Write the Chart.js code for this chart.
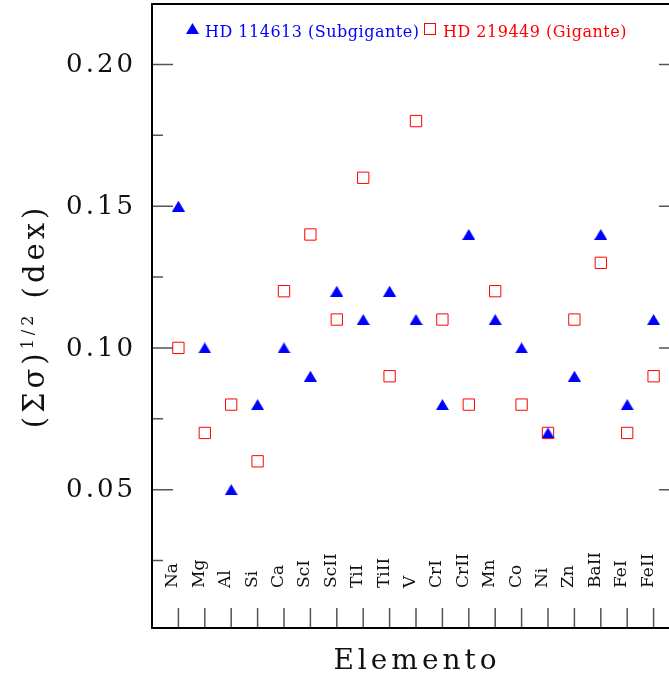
<!DOCTYPE html>
<html>
<head>
<meta charset="utf-8">
<script src="https://cdn.jsdelivr.net/npm/chart.js@4"></script>
<style>
  html, body { margin: 0; padding: 0; background: #fff; overflow: hidden; }
</style>
</head>
<body>
<canvas id="sigmaChart" width="700" height="675" style="width:700px;height:675px;display:block"></canvas>
<script>
// Elementos e valores de (Σσ)^1/2
const elementos = ['Na', 'Mg', 'Al', 'Si', 'Ca', 'ScI', 'ScII', 'TiI', 'TiII', 'V', 'CrI', 'CrII', 'Mn', 'Co', 'Ni', 'Zn', 'BaII', 'FeI', 'FeII'];
const subgigante = [0.15, 0.10, 0.05, 0.08, 0.10, 0.09, 0.12, 0.11, 0.12, 0.11, 0.08, 0.14, 0.11, 0.10, 0.07, 0.09, 0.14, 0.08, 0.11];
const gigante = [0.10, 0.07, 0.08, 0.06, 0.12, 0.14, 0.11, 0.16, 0.09, 0.18, 0.11, 0.08, 0.12, 0.08, 0.07, 0.11, 0.13, 0.07, 0.09];
const yMajorTicks = [0.05, 0.10, 0.15, 0.20];
const yTickLabels = ['0.05', '0.10', '0.15', '0.20'];
const yMinorTicks = [0.025, 0.075, 0.125, 0.175];

const FONT = '"DejaVu Serif", "Liberation Serif", serif';

// triangle centred on its bounding box (like the original plot symbol)
function makeTriangle(w, h, color) {
  const c = document.createElement('canvas');
  c.width = w;
  c.height = h;
  const g = c.getContext('2d');
  g.fillStyle = color;
  g.beginPath();
  g.moveTo(w / 2, 0);
  g.lineTo(w, h);
  g.lineTo(0, h);
  g.closePath();
  g.fill();
  return c;
}
const triangulo = makeTriangle(13, 11, '#0000ff');

// Frame, inward ticks, labels and legend
const marcoPlugin = {
  id: 'marco',
  beforeDatasetsDraw(chart) {
    const { ctx, chartArea: a, scales: { x, y } } = chart;
    ctx.save();
    ctx.letterSpacing = '0px';

    // tick marks
    ctx.strokeStyle = '#555';
    ctx.lineWidth = 1.5;
    ctx.beginPath();
    yMajorTicks.forEach(v => {
      const py = y.getPixelForValue(v);
      ctx.moveTo(a.left, py); ctx.lineTo(a.left + 21, py);
      ctx.moveTo(a.right, py); ctx.lineTo(a.right - 21, py);
    });
    yMinorTicks.forEach(v => {
      const py = y.getPixelForValue(v);
      ctx.moveTo(a.left, py); ctx.lineTo(a.left + 11, py);
      ctx.moveTo(a.right, py); ctx.lineTo(a.right - 11, py);
    });
    elementos.forEach((e, i) => {
      const px = x.getPixelForValue(i);
      ctx.moveTo(px, a.bottom); ctx.lineTo(px, a.bottom - 20);
    });
    ctx.stroke();

    // frame
    ctx.strokeStyle = '#000';
    ctx.lineWidth = 2;
    ctx.strokeRect(a.left, a.top, a.right - a.left, a.bottom - a.top);

    // y tick labels
    ctx.fillStyle = '#111';
    ctx.font = '26px ' + FONT;
    ctx.letterSpacing = '3px';
    ctx.textAlign = 'left';
    ctx.textBaseline = 'middle';
    yMajorTicks.forEach((v, i) => {
      const w = ctx.measureText(yTickLabels[i]).width - 3;
      ctx.fillText(yTickLabels[i], a.left - 19 - w, y.getPixelForValue(v) + 1);
    });

    // element names, rotated, inside the box
    ctx.letterSpacing = '0px';
    ctx.font = '17px ' + FONT;
    ctx.textBaseline = 'alphabetic';
    elementos.forEach((e, i) => {
      ctx.save();
      ctx.translate(x.getPixelForValue(i) - 1, 588);
      ctx.rotate(-Math.PI / 2);
      ctx.fillText(e, 0, 0);
      ctx.restore();
    });

    // x title
    ctx.font = '28px ' + FONT;
    ctx.letterSpacing = '4px';
    ctx.textAlign = 'center';
    ctx.fillText('Elemento', (a.left + a.right) / 2 + 1, 669);

    // y title with superscript
    ctx.textAlign = 'left';
    ctx.letterSpacing = '4px';
    const big = '29px ' + FONT, small = '16px ' + FONT;
    ctx.font = big;
    const w1 = ctx.measureText('(Σσ)').width;
    const w3 = ctx.measureText(' (dex)').width;
    ctx.font = small;
    const w2 = ctx.measureText('1/2').width;
    const total = w1 + w2 + w3;
    ctx.save();
    ctx.translate(44, (a.top + a.bottom) / 2);
    ctx.rotate(-Math.PI / 2);
    let tx = -total / 2;
    ctx.font = big;
    ctx.fillText('(Σσ)', tx, 0);
    tx += w1;
    ctx.font = small;
    ctx.fillText('1/2', tx, -11);
    tx += w2;
    ctx.font = big;
    ctx.fillText(' (dex)', tx, 0);
    ctx.restore();

    // legend
    ctx.letterSpacing = '0.5px';
    ctx.font = '16px ' + FONT;
    ctx.drawImage(triangulo, 186, 23);
    ctx.fillStyle = '#0000ff';
    ctx.fillText('HD 114613 (Subgigante)', 205, 37);
    ctx.strokeStyle = '#ff0000';
    ctx.lineWidth = 1;
    ctx.strokeRect(424.5, 23.5, 11, 11);
    ctx.fillStyle = '#ff0000';
    ctx.fillText('HD 219449 (Gigante)', 443, 37);

    ctx.restore();
  }
};

const ctx = document.getElementById('sigmaChart').getContext('2d');

new Chart(ctx, {
  type: 'scatter',
  data: {
    datasets: [
      {
        label: 'HD 114613 (Subgigante)',
        data: subgigante.map((v, i) => ({ x: i, y: v })),
        pointStyle: triangulo,
        backgroundColor: '#0000ff',
        borderColor: '#0000ff',
      },
      {
        label: 'HD 219449 (Gigante)',
        data: gigante.map((v, i) => ({ x: i, y: v })),
        pointStyle: 'rect',
        pointRadius: 8,
        backgroundColor: 'rgba(0,0,0,0)',
        borderColor: '#ff0000',
        borderWidth: 1,
      },
    ],
  },
  options: {
    responsive: false,
    animation: false,
    events: [],
    layout: { autoPadding: false, padding: { top: 4, right: 20, bottom: 47, left: 152 } },
    plugins: {
      legend: { display: false },
      tooltip: { enabled: false },
    },
    scales: {
      x: { type: 'linear', min: -1, max: 19, display: false },
      y: { min: 0.0012, max: 0.2213, display: false },
    },
  },
  plugins: [marcoPlugin],
});
</script>
</body>
</html>
